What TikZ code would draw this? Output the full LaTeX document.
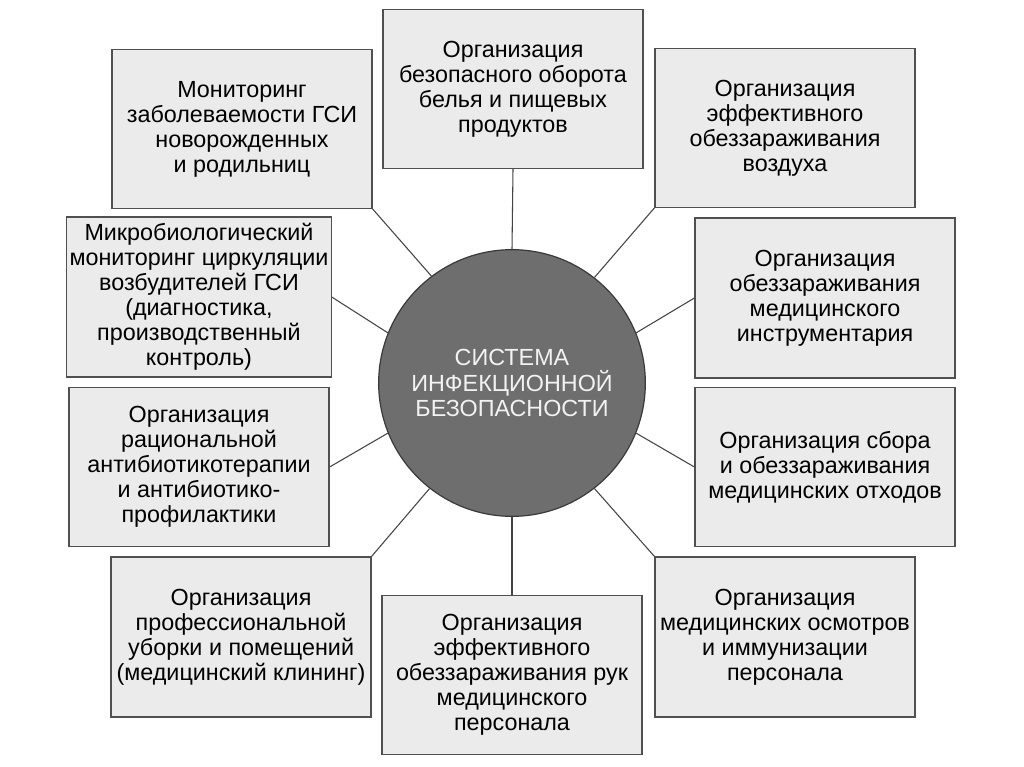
\documentclass[tikz,border=0pt]{standalone}
\usepackage{fontspec}
\setmainfont{Liberation Sans}
\usetikzlibrary{positioning}
\definecolor{boxfill}{HTML}{EBEBEB}
\definecolor{boxline}{HTML}{505050}
\definecolor{hubfill}{HTML}{6E6E6E}
\definecolor{hubline}{HTML}{3A3A3A}
\definecolor{hubtext}{HTML}{F2F2F2}
\definecolor{linkcol}{HTML}{444444}

\begin{document}
\begin{tikzpicture}[
  x=0.75pt, y=-0.75pt,
  box/.style={draw=boxline, fill=boxfill, line width=0.9pt, align=center, minimum width=195pt, minimum height=119pt, font=\fontsize{17.5}{18.8}\selectfont, inner sep=2pt},
  hub/.style={circle, draw=hubline, fill=hubfill, line width=0.9pt, minimum size=200pt, align=center, text=hubtext, font=\fontsize{17.5}{18.8}\selectfont},
  link/.style={draw=linkcol, line width=0.8pt}
]
\useasboundingbox (0,0) rectangle (1024,767);

\node[hub] (system) at (512,383) {СИСТЕМА\\ ИНФЕКЦИОННОЙ\\ БЕЗОПАСНОСТИ};

\node[box] (linen) at (513,89) {Организация\\ безопасного оборота\\ белья и пищевых\\ продуктов};
\node[box] (monitor) at (242,129) {Мониторинг\\ заболеваемости ГСИ\\ новорожденных\\ и родильниц};
\node[box] (air) at (785,128) {Организация\\ эффективного\\ обеззараживания\\ воздуха};
\node[box, minimum height=120pt] (microbio) at (199,297) {Микробиологический\\ мониторинг циркуляции\\ возбудителей ГСИ\\ (диагностика,\\ производственный\\ контроль)};
\node[box, minimum height=120pt] (instr) at (825,298) {Организация\\ обеззараживания\\ медицинского\\ инструментария};
\node[box] (antibio) at (199,467) {Организация\\ рациональной\\ антибиотикотерапии\\ и антибиотико-\\ профилактики};
\node[box] (waste) at (825,467) {Организация сбора\\ и обеззараживания\\ медицинских отходов};
\node[box, minimum height=120pt] (cleaning) at (241,637) {Организация\\ профессиональной\\ уборки и помещений\\ (медицинский клининг)};
\node[box] (hands) at (512,675) {Организация\\ эффективного\\ обеззараживания рук\\ медицинского\\ персонала};
\node[box, minimum height=120pt] (staff) at (785,637) {Организация\\ медицинских осмотров\\ и иммунизации\\ персонала};

\draw[link] (linen.south) -- (system.90);
\draw[link] (monitor.south east) -- (system.127.5);
\draw[link] (air.south west) -- (system.52.5);
\draw[link] (microbio.east) -- (system.158);
\draw[link] (instr.west) -- (system.22);
\draw[link] (antibio.east) -- (system.202);
\draw[link] (waste.west) -- (system.-22);
\draw[link] (cleaning.north east) -- (system.232.5);
\draw[link] (hands.north) -- (system.270);
\draw[link] (staff.north west) -- (system.-52.5);
\end{tikzpicture}
\end{document}
